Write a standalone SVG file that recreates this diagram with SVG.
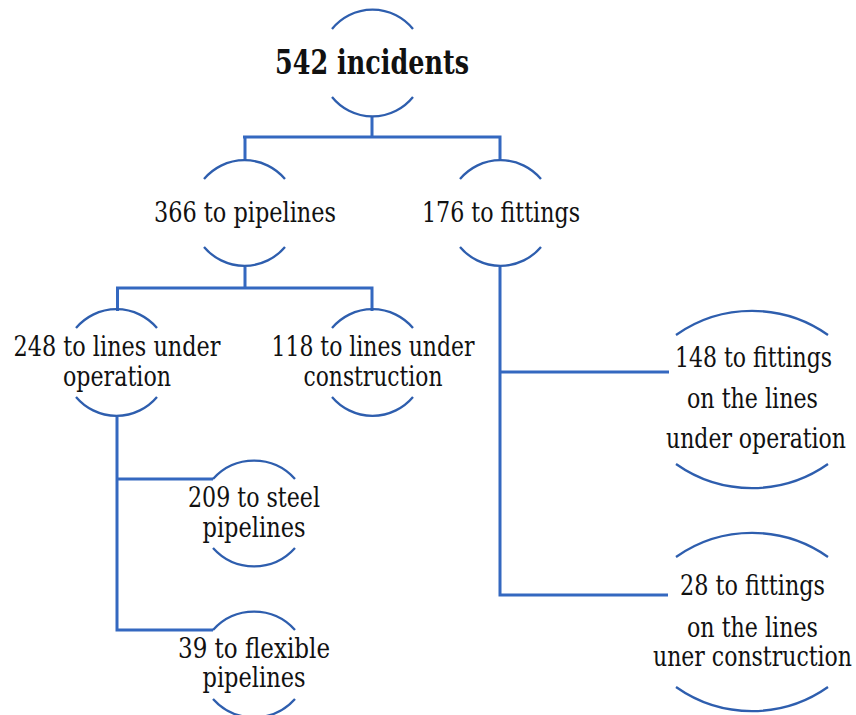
<svg xmlns="http://www.w3.org/2000/svg" width="856" height="715" viewBox="0 0 856 715">
  <style>
    .conn { fill: none; stroke: #3468C0; stroke-width: 3; stroke-linejoin: miter; }
    .arc { fill: none; stroke: #2E5EAE; stroke-width: 2.3; }
    text { font-family: 'DejaVu Serif Condensed', 'DejaVu Serif', serif; font-stretch: condensed; fill: #111; text-anchor: middle; }
    .lbl { font-size: 27.5px; }
    .title { font-size: 33px; font-weight: bold; }
  </style>
  <rect width="856" height="715" fill="#ffffff"/>

  <!-- tree connectors -->
  <g id="connectors">
    <path class="conn" d="M372 117 V137 M243 137 H501.5 M245 137 V161 M500 137 V161"/>
    <path class="conn" d="M245 267 V288 M116 288 H373.5 M117.5 288 V311 M372 288 V311"/>
    <path class="conn" d="M500 267 V595 H668 M500 372 H669"/>
    <path class="conn" d="M117 417 V630 H213 M117 479 H213"/>
  </g>

  <g id="node-total">
    <path class="arc" d="M332 29 A52 52 0 0 1 413 29"/>
    <path class="arc" d="M332 97 A52 52 0 0 0 413 97"/>
    <text class="title" x="372" y="74" textLength="194" lengthAdjust="spacingAndGlyphs">542 incidents</text>
  </g>

  <g id="node-pipelines">
    <path class="arc" d="M204 179 A53 53 0 0 1 285 179"/>
    <path class="arc" d="M204 247 A53 53 0 0 0 285 247"/>
    <text class="lbl" x="245" y="222" textLength="182" lengthAdjust="spacingAndGlyphs">366 to pipelines</text>
  </g>

  <g id="node-fittings">
    <path class="arc" d="M460 179 A53 53 0 0 1 541 179"/>
    <path class="arc" d="M460 247 A53 53 0 0 0 541 247"/>
    <text class="lbl" x="501" y="222" textLength="158" lengthAdjust="spacingAndGlyphs">176 to fittings</text>
  </g>

  <g id="node-lines-operation">
    <path class="arc" d="M76 328 A53 53 0 0 1 157 328"/>
    <path class="arc" d="M76 397 A53 53 0 0 0 157 397"/>
    <text class="lbl" x="117" y="356" textLength="207" lengthAdjust="spacingAndGlyphs">248 to lines under</text>
    <text class="lbl" x="117" y="386" textLength="108" lengthAdjust="spacingAndGlyphs">operation</text>
  </g>

  <g id="node-lines-construction">
    <path class="arc" d="M332 328 A53 53 0 0 1 413 328"/>
    <path class="arc" d="M332 397 A53 53 0 0 0 413 397"/>
    <text class="lbl" x="373" y="356" textLength="203" lengthAdjust="spacingAndGlyphs">118 to lines under</text>
    <text class="lbl" x="373" y="386" textLength="139" lengthAdjust="spacingAndGlyphs">construction</text>
  </g>

  <g id="node-steel">
    <path class="arc" d="M213 479 A55 55 0 0 1 295 479"/>
    <path class="arc" d="M213 548 A55 55 0 0 0 295 548"/>
    <text class="lbl" x="254" y="507" textLength="132" lengthAdjust="spacingAndGlyphs">209 to steel</text>
    <text class="lbl" x="254" y="537" textLength="103" lengthAdjust="spacingAndGlyphs">pipelines</text>
  </g>

  <g id="node-flexible">
    <path class="arc" d="M213 630 A55 55 0 0 1 295 630"/>
    <path class="arc" d="M213 699 A55 55 0 0 0 295 699"/>
    <text class="lbl" x="254" y="658" textLength="152" lengthAdjust="spacingAndGlyphs">39 to flexible</text>
    <text class="lbl" x="254" y="687" textLength="103" lengthAdjust="spacingAndGlyphs">pipelines</text>
  </g>

  <g id="node-fittings-operation">
    <path class="arc" d="M676 335 A132 132 0 0 1 828 335"/>
    <path class="arc" d="M676 464 A132 132 0 0 0 828 464"/>
    <text class="lbl" x="753.5" y="367" textLength="157" lengthAdjust="spacingAndGlyphs">148 to fittings</text>
    <text class="lbl" x="752.5" y="408" textLength="131" lengthAdjust="spacingAndGlyphs">on the lines</text>
    <text class="lbl" x="756" y="448" textLength="180" lengthAdjust="spacingAndGlyphs">under operation</text>
  </g>

  <g id="node-fittings-construction">
    <path class="arc" d="M676 557 A132 132 0 0 1 828 557"/>
    <path class="arc" d="M676 687 A132 132 0 0 0 828 687"/>
    <text class="lbl" x="752.5" y="595" textLength="145" lengthAdjust="spacingAndGlyphs">28 to fittings</text>
    <text class="lbl" x="752.5" y="637" textLength="131" lengthAdjust="spacingAndGlyphs">on the lines</text>
    <text class="lbl" x="752.5" y="666" textLength="199" lengthAdjust="spacingAndGlyphs">uner construction</text>
  </g>
</svg>
